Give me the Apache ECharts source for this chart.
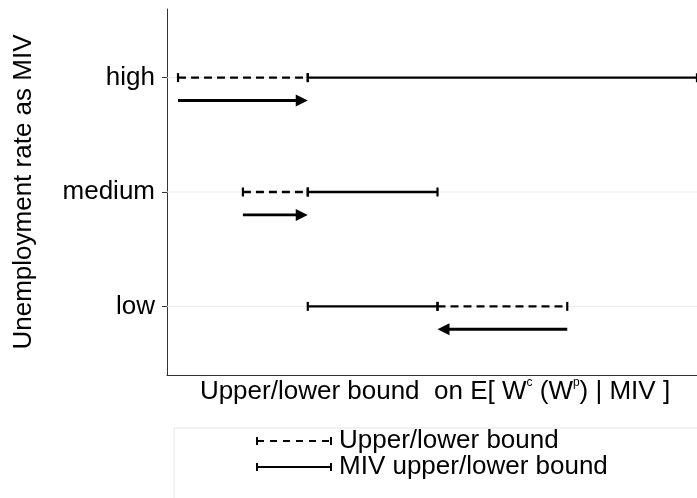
<!DOCTYPE html>
<html>
<head>
<meta charset="utf-8">
<script src="https://cdn.jsdelivr.net/npm/echarts@6/dist/echarts.min.js"></script>
<style>html,body{margin:0;padding:0;background:#fff}#c{width:697px;height:498px}</style>
</head>
<body>
<div id="c"></div>
<script>
// ---- data ----
const categories = ['low', 'medium', 'high'];
const boundStart = [2, 0.5, 0];     // upper/lower bound (dashed)
const boundEnd   = [3, 1, 1];
const mivStart   = [1, 1, 1];       // MIV upper/lower bound (solid)
const mivEnd     = [2, 2, 4];
const arrowFrom  = [3, 0.5, 0];
const arrowTo    = [2, 1, 1];
const legendNames = ['Upper/lower bound', 'MIV upper/lower bound'];
const yTitle = 'Unemployment rate as MIV';

const FONT = "'Liberation Sans', Arial, sans-serif";
const FS = 26;
const chart = echarts.init(document.getElementById('c'), null, {renderer: 'canvas'});

function segData(s, e) { return categories.map((c, i) => [s[i], e[i], i + 1]); }

function segRender(dashed) {
  return function (params, api) {
    const y = api.value(2);
    const p0 = api.coord([api.value(0), y]);
    const p1 = api.coord([api.value(1), y]);
    const st = {stroke: '#000', lineWidth: 2.4, lineDash: dashed ? [8, 5] : null};
    const cap = {stroke: '#000', lineWidth: 2.2};
    return {type: 'group', children: [
      {type: 'line', shape: {x1: p0[0], y1: p0[1], x2: p1[0], y2: p1[1]}, style: st},
      {type: 'line', shape: {x1: p0[0], y1: p0[1] - 4.5, x2: p0[0], y2: p0[1] + 4.5}, style: cap},
      {type: 'line', shape: {x1: p1[0], y1: p1[1] - 4.5, x2: p1[0], y2: p1[1] + 4.5}, style: cap}
    ]};
  };
}

function arrowRender(params, api) {
  const y = api.value(2) - 0.2;
  const p0 = api.coord([api.value(0), y]);
  const p1 = api.coord([api.value(1), y]);
  const dir = p1[0] > p0[0] ? 1 : -1;
  const hl = 12, hw = 6;
  const base = p1[0] - dir * hl;
  return {type: 'group', children: [
    {type: 'line', shape: {x1: p0[0], y1: p0[1], x2: base + dir * 1, y2: p1[1]}, style: {stroke: '#000', lineWidth: 2.8}},
    {type: 'polygon', shape: {points: [[p1[0], p1[1]], [base, p1[1] - hw], [base, p1[1] + hw]]}, style: {fill: '#000'}}
  ]};
}

const xName = '{n|Upper/lower bound  on E[ W}{s|c}{n| (W}{s|p}{n|) | MIV ]}';

chart.setOption({
  animation: false,
  grid: {left: 167, right: 0, top: 9, bottom: 123, containLabel: false},
  xAxis: {
    type: 'value', min: -0.085, max: 4,
    axisLine: {show: true, onZero: false, lineStyle: {color: '#333', width: 1}},
    axisTick: {show: false}, axisLabel: {show: false}, splitLine: {show: false},
    name: xName, nameLocation: 'middle', nameGap: 2,
    nameTextStyle: {
      verticalAlign: 'top', padding: [0, 0, 0, 6],
      rich: {
        n: {fontFamily: FONT, fontSize: FS, color: '#000', lineHeight: 30},
        s: {fontFamily: FONT, fontSize: 12, color: '#000', lineHeight: 30, verticalAlign: 'top', padding: [0, 0, 13, 0]}
      }
    }
  },
  yAxis: {
    type: 'value', min: 0.4, max: 3.6,
    axisLine: {show: true, onZero: false, lineStyle: {color: '#333', width: 1}},
    axisTick: {show: true, length: 5, lineStyle: {color: '#333'}, customValues: [1, 2, 3]},
    axisLabel: {customValues: [1, 2, 3], formatter: v => categories[Math.round(v) - 1] || '', color: '#000', fontFamily: FONT, fontSize: FS, margin: 12},
    splitLine: {show: false},
    name: yTitle, nameLocation: 'middle', nameGap: 130,
    nameTextStyle: {fontFamily: FONT, fontSize: FS, color: '#000'}
  },
  series: [
    {
      type: 'custom', name: 'grid', silent: true, z: 1,
      data: categories.map((c, i) => [-0.085, 4, i + 1]),
      renderItem: function (params, api) {
        const y = api.value(2);
        const p0 = api.coord([api.value(0), y]);
        const p1 = api.coord([api.value(1), y]);
        return {type: 'line', shape: {x1: p0[0], y1: p0[1], x2: p1[0], y2: p1[1]}, style: {stroke: '#ebebeb', lineWidth: 1}};
      }
    },
    {type: 'custom', name: legendNames[0], z: 2, data: segData(boundStart, boundEnd), renderItem: segRender(true)},
    {type: 'custom', name: legendNames[1], z: 3, data: segData(mivStart, mivEnd), renderItem: segRender(false)},
    {type: 'custom', name: 'arrows', z: 3, data: categories.map((c, i) => [arrowFrom[i], arrowTo[i], i + 1]), renderItem: arrowRender}
  ],
  graphic: [
    {type: 'rect', shape: {x: 174, y: 428, width: 600, height: 120}, style: {fill: '#fff', stroke: '#e6e6e6', lineWidth: 1}},
    {type: 'line', shape: {x1: 257, y1: 441, x2: 331, y2: 441}, style: {stroke: '#000', lineWidth: 2.2, lineDash: [7, 6]}},
    {type: 'line', shape: {x1: 257, y1: 437, x2: 257, y2: 445}, style: {stroke: '#000', lineWidth: 2}},
    {type: 'line', shape: {x1: 331, y1: 437, x2: 331, y2: 445}, style: {stroke: '#000', lineWidth: 2}},
    {type: 'text', style: {text: legendNames[0], x: 339, y: 441, fontFamily: FONT, fontSize: FS, fill: '#000', verticalAlign: 'middle'}},
    {type: 'line', shape: {x1: 257, y1: 467, x2: 331, y2: 467}, style: {stroke: '#000', lineWidth: 2.2}},
    {type: 'line', shape: {x1: 257, y1: 463, x2: 257, y2: 471}, style: {stroke: '#000', lineWidth: 2}},
    {type: 'line', shape: {x1: 331, y1: 463, x2: 331, y2: 471}, style: {stroke: '#000', lineWidth: 2}},
    {type: 'text', style: {text: legendNames[1], x: 339, y: 467, fontFamily: FONT, fontSize: FS, fill: '#000', verticalAlign: 'middle'}}
  ]
});
</script>
</body>
</html>
